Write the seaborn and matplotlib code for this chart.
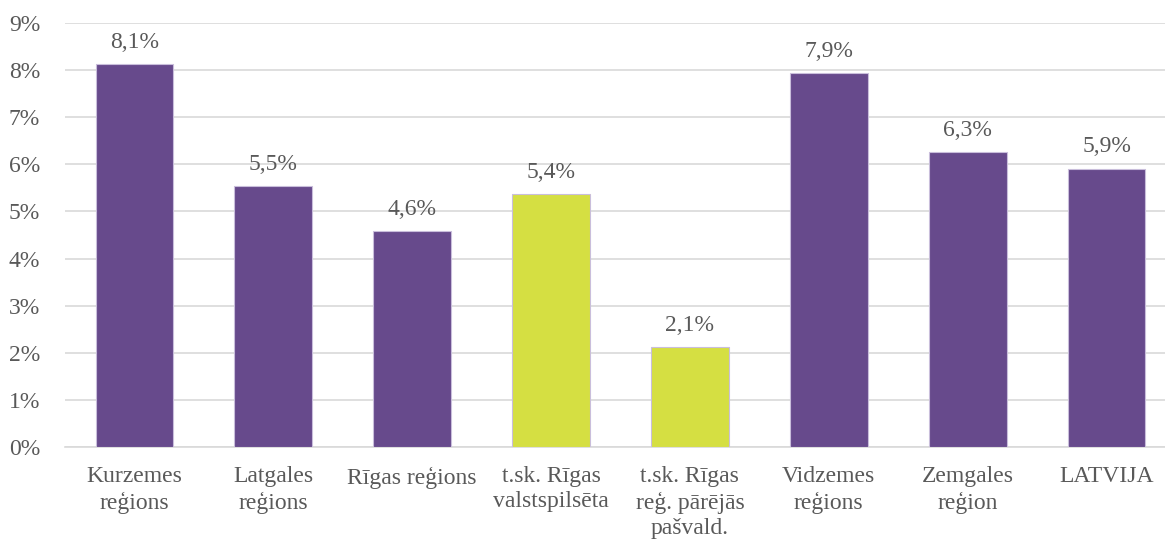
import numpy as np
import pandas as pd
import matplotlib
matplotlib.use("Agg")
import matplotlib.pyplot as plt
import seaborn as sns

regions = ["Kurzemes\nreģions", "Latgales\nreģions", "Rīgas reģions",
           "t.sk. Rīgas\nvalstspilsēta", "t.sk. Rīgas\nreģ. pārējās\npašvald.",
           "Vidzemes\nreģions", "Zemgales\nreģion", "LATVIJA"]
shares = [8.12, 5.54, 4.59, 5.36, 2.12, 7.94, 6.27, 5.91]
bar_colors = ["#674a8c", "#674a8c", "#674a8c", "#d5df42", "#d5df42",
              "#674a8c", "#674a8c", "#674a8c"]

df = pd.DataFrame({"region": regions, "share": shares})

sns.set_theme(style="white")
plt.rcParams["font.family"] = ["Liberation Serif", "DejaVu Serif"]
txt = "#595959"
fs = 17

fig = plt.figure(figsize=(11.65, 5.42), dpi=100)
ax = fig.add_axes([65 / 1165, 95 / 542, 1111 / 1165, 424 / 542])

sns.barplot(data=df, x="region", y="share", hue="region", palette=bar_colors,
            legend=False, width=0.56, saturation=1, ax=ax,
            edgecolor="#c9bedb", linewidth=0.8, zorder=3)

ax.set_xlim(-0.5, 7.5)
ax.set_ylim(0, 9)
ax.set_yticks(range(0, 10))
ax.set_yticklabels([f"{v}%" for v in range(0, 10)], color=txt, fontsize=fs)
ax.set_xticks(range(len(regions)))
ax.set_xticklabels(regions, color=txt, fontsize=fs, linespacing=1.25, va="top")
ax.tick_params(axis="x", length=0, pad=14)
ax.tick_params(axis="y", length=0, pad=18)
ax.yaxis.grid(True, color="#d9d9d9", linewidth=1.2, zorder=0)
ax.set_axisbelow(True)
for s in ["top", "right", "left"]:
    ax.spines[s].set_visible(False)
ax.spines["bottom"].set_color("#d9d9d9")
ax.spines["bottom"].set_linewidth(1.2)
ax.set_xlabel("")
ax.set_ylabel("")

for i, v in enumerate(shares):
    ax.annotate(f"{v:.1f}%".replace(".", ","), (i, v), xytext=(0, 8),
                textcoords="offset points", ha="center", va="bottom",
                color=txt, fontsize=fs)

fig.savefig("out.png", dpi=100)
